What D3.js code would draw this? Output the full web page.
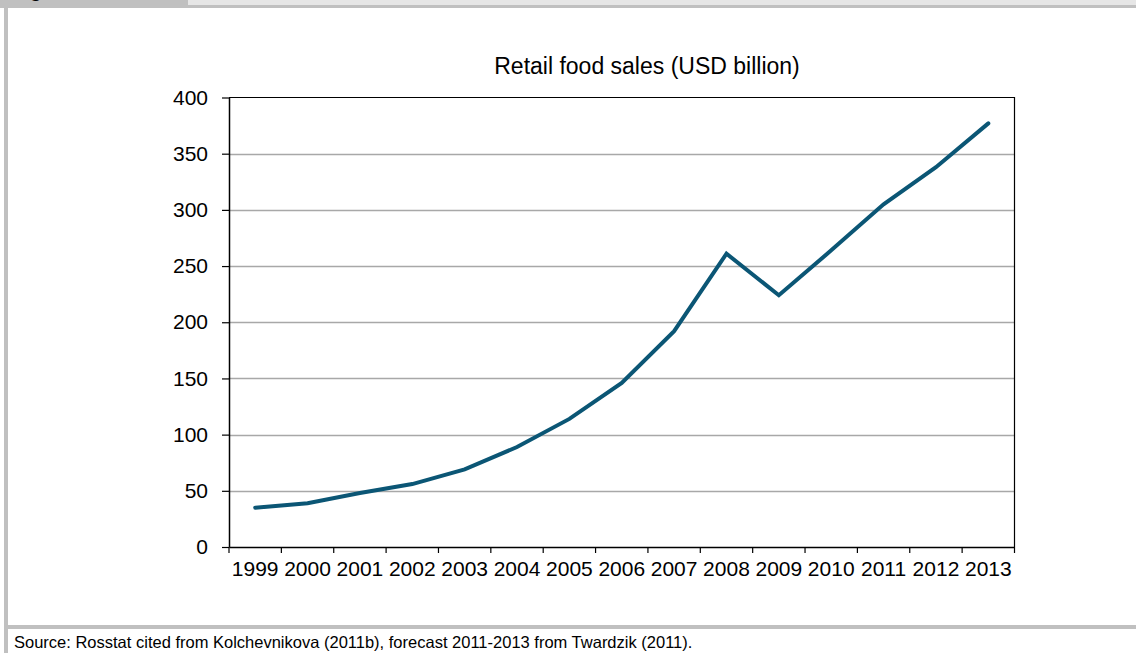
<!DOCTYPE html>
<html>
<head>
<meta charset="utf-8">
<script src="https://cdn.jsdelivr.net/npm/d3@7"></script>
<style>
  html, body { margin: 0; padding: 0; background: #ffffff; }
  svg { display: block; font-family: "Liberation Sans", Arial, sans-serif; }
</style>
</head>
<body>
<svg id="chart" width="1136" height="653"></svg>
<script>
// Retail food sales in Russia, USD billion (2011-2013 forecast)
const years = ["1999","2000","2001","2002","2003","2004","2005","2006","2007","2008","2009","2010","2011","2012","2013"];
const sales = [35, 39, 48, 56, 69, 89, 114, 146, 192, 261, 224, 264, 305, 338, 377];
const yTicks = [0, 50, 100, 150, 200, 250, 300, 350, 400];

const titleText = "Retail food sales (USD billion)";
const sourceText = "Source: Rosstat cited from Kolchevnikova (2011b), forecast 2011-2013 from Twardzik (2011).";

const W = 1136, H = 653;
const svg = d3.select("#chart");

// Figure panel frame
svg.append("rect").attr("x", 188).attr("y", 0).attr("width", W - 188).attr("height", 5).attr("fill", "#e6e6e6");
svg.append("rect").attr("x", 0).attr("y", 0).attr("width", 188).attr("height", 8).attr("fill", "#c0c0c0");
svg.append("rect").attr("x", 188).attr("y", 5).attr("width", W - 188).attr("height", 3).attr("fill", "#c0c0c0");
svg.append("rect").attr("x", 4).attr("y", 0).attr("width", 4).attr("height", H).attr("fill", "#c0c0c0");
svg.append("rect").attr("x", 8).attr("y", 625).attr("width", W - 8).attr("height", 4).attr("fill", "#c0c0c0");
svg.append("text").attr("x", 12).attr("y", -3).attr("font-size", 20).attr("font-weight", "bold")
  .attr("fill", "#000").text("Figure");

// Plot area
const plotL = 229, plotR = 1014.5, plotT = 97.5, plotB = 547;

const x = d3.scaleBand().domain(years).range([plotL, plotR]).padding(0);
const y = d3.scaleLinear().domain([0, 400]).range([plotB, plotT]);

// Horizontal gridlines
svg.append("g").selectAll("line").data(yTicks.filter(v => v > 0 && v < 400)).join("line")
  .attr("x1", plotL).attr("x2", plotR)
  .attr("y1", d => Math.round(y(d)) + 0.5).attr("y2", d => Math.round(y(d)) + 0.5)
  .attr("stroke", "#a8a8a8").attr("stroke-width", 1.5);

// Top and right border
svg.append("path")
  .attr("d", `M${plotL},${plotT}H${plotR}V${plotB}`)
  .attr("fill", "none").attr("stroke", "#000").attr("stroke-width", 1.2);

// Y axis
const yAxis = svg.append("g").attr("transform", `translate(${plotL},0)`)
  .call(d3.axisLeft(y).tickValues(yTicks).tickSize(7).tickPadding(14).tickSizeOuter(0));
yAxis.select(".domain").attr("stroke", "#000").attr("stroke-width", 1.5);
yAxis.selectAll(".tick line").attr("stroke", "#000").attr("stroke-width", 1.2);
yAxis.selectAll(".tick text").attr("font-size", 21).attr("fill", "#000")
  .attr("font-family", "'Liberation Sans', Arial, sans-serif");

// X axis with ticks at category boundaries
const xAxis = svg.append("g").attr("transform", `translate(0,${plotB})`)
  .call(d3.axisBottom(x).tickSize(0).tickPadding(14).tickSizeOuter(0));
xAxis.select(".domain").attr("stroke", "#000").attr("stroke-width", 1.5);
xAxis.selectAll(".tick text").attr("font-size", 21).attr("fill", "#000")
  .attr("font-family", "'Liberation Sans', Arial, sans-serif");
const bounds = years.map(d => x(d)).concat([plotR]);
xAxis.append("g").selectAll("line").data(bounds).join("line")
  .attr("x1", d => d).attr("x2", d => d).attr("y1", 0).attr("y2", 6)
  .attr("stroke", "#000").attr("stroke-width", 1.2);

// Sales line
const line = d3.line()
  .x((d, i) => x(years[i]) + x.bandwidth() / 2)
  .y(d => y(d));
svg.append("path").datum(sales)
  .attr("d", line)
  .attr("fill", "none")
  .attr("stroke", "#0b5675")
  .attr("stroke-width", 4)
  .attr("stroke-linejoin", "miter")
  .attr("stroke-linecap", "round");

// Title
svg.append("text").attr("x", 647).attr("y", 74).attr("text-anchor", "middle")
  .attr("font-size", 23).attr("fill", "#000").text(titleText);

// Source note
svg.append("text").attr("x", 14).attr("y", 648)
  .attr("font-size", 16.5).attr("fill", "#000").text(sourceText);
</script>
</body>
</html>
